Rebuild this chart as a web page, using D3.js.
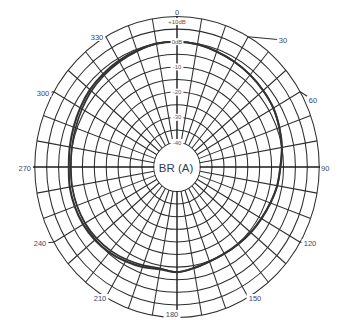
<!DOCTYPE html>
<html><head><meta charset="utf-8">
<script src="https://cdn.jsdelivr.net/npm/d3@7"></script>
<style>html,body{margin:0;padding:0;background:#fff}svg{display:block}</style>
</head><body>
<script>
// Polar pattern: angle (degrees) and level (dB)
const angleTicks = [0, 30, 60, 90, 120, 150, 180, 210, 240, 270, 300, 330];
const spokeAngles = [0,10,20,30,40,50,60,70,80,90,100,110,120,130,140,150,160,170,
                     180,190,200,210,220,230,240,250,260,270,280,290,300,310,320,330,340,350];
const ringLevels = [-40, -35, -30, -25, -20, -15, -10, -5, 0, 5, 10];
const ringLabelLevels = [10, 0, -10, -20, -30, -40];
const ringLabelTexts = ["+10dB", "0dB", "-10", "-20", "-30", "-40"];
const patternAngles = [0,10,20,30,40,50,60,70,80,90,100,110,120,130,140,150,160,170,
                       180,190,200,210,220,230,240,250,260,270,280,290,300,310,320,330,340,350];
const patternA = [0,-0.3,-1,-1.5,-2,-2.5,-3,-4,-5,-6.3,-7,-8,-8.8,-9.3,-9.8,-10,-9.8,-9,
                  -8,-8.5,-7.5,-6.5,-5.5,-4.7,-4.2,-4,-4,-4.3,-4,-3.5,-2.8,-2,-1.5,-1,-0.5,0];
const patternB = [0,-0.3,-1,-1.5,-2,-2.5,-3,-4,-5,-6.3,-7,-8,-8.8,-9.3,-9.8,-10,-9.8,-9,
                  -8,-8.9,-8.2,-7.3,-6.4,-5.7,-5.2,-5,-5,-5.2,-4.9,-4.4,-3.7,-2.8,-2.2,-1.5,-0.8,0];
const centerLabel = "BR (A)";

const W = 338, H = 320;
const cx = 177, cy = 167, sx = 0.945;
const r = d3.scaleLinear().domain([-40, 10]).range([24.5, 150.5]);
const rad = d3.scaleLinear().domain([0, 360]).range([0, 2 * Math.PI]);
const px = (a, rr) => cx + rr * Math.sin(rad(a)) * sx;
const py = (a, rr) => cy - rr * Math.cos(rad(a));

// label anchor points around the rim
const tickPos = {0:[177,12],30:[283,40],60:[313,100],90:[321,168],120:[310,243],150:[255,298],
                 180:[172,314],210:[100,298],240:[40,243],270:[31,168],300:[43,93],330:[97,37]};

const svg = d3.select("body").append("svg").attr("width", W).attr("height", H);
const grid = svg.append("g");
const gridColor = "#2e2e2e";

// rings
grid.selectAll("ellipse.ring").data(ringLevels).join("ellipse")
  .attr("cx", cx).attr("cy", cy)
  .attr("rx", d => r(d) * sx).attr("ry", d => r(d))
  .attr("fill", "none").attr("stroke", gridColor).attr("stroke-width", 1.05);

// spokes
grid.selectAll("line.spoke").data(spokeAngles.filter(a => a % 90 !== 0)).join("line")
  .attr("x1", a => px(a, r(-40))).attr("y1", a => py(a, r(-40)))
  .attr("x2", a => px(a, r(10))).attr("y2", a => py(a, r(10)))
  .attr("stroke", gridColor).attr("stroke-width", 1.05);

// leaders from the rim out to the angle labels
grid.selectAll("line.leader").data(angleTicks.filter(a => a % 90 !== 0)).join("line")
  .attr("x1", a => px(a, r(10))).attr("y1", a => py(a, r(10)))
  .attr("x2", a => tickPos[a][0]).attr("y2", a => tickPos[a][1])
  .attr("stroke", gridColor).attr("stroke-width", 1.05);

// main axes
grid.append("line").attr("x1", 33).attr("x2", 320).attr("y1", cy).attr("y2", cy)
  .attr("stroke", "#1a1a1a").attr("stroke-width", 1.4);
grid.append("line").attr("x1", cx).attr("x2", cx).attr("y1", 17).attr("y2", 317)
  .attr("stroke", "#1a1a1a").attr("stroke-width", 1.4);

// inner blank disc
svg.append("ellipse").attr("cx", cx).attr("cy", cy)
  .attr("rx", r(-40) * sx - 0.5).attr("ry", r(-40) - 0.5).attr("fill", "#fff");

// pattern curves
const line = d3.line().curve(d3.curveCatmullRomClosed.alpha(0.5));
function drawPattern(vals, w) {
  const pts = patternAngles.map((a, i) => [px(a, r(vals[i])), py(a, r(vals[i]))]);
  svg.append("path").attr("d", line(pts)).attr("fill", "none")
    .attr("stroke", "#333").attr("stroke-width", w).attr("stroke-linejoin", "round");
}
drawPattern(patternA, 2.1);
drawPattern(patternB, 1.7);

// level labels on the vertical axis
const lab = svg.append("g").attr("font-family", "Liberation Sans, Arial, sans-serif");
ringLabelLevels.forEach((d, i) => {
  const t = ringLabelTexts[i];
  const y = d === 10 ? py(0, r(d)) + 5 : py(0, r(d));
  const w = t.length * 3.6 + 2;
  lab.append("rect").attr("x", cx - w / 2).attr("y", y - 3.5).attr("width", w).attr("height", 7)
    .attr("fill", "#fff");
  lab.append("text").attr("x", cx).attr("y", y).attr("dy", "0.35em")
    .attr("text-anchor", "middle").attr("font-size", 6)
    .attr("fill", d === 10 ? "#7a4a3a" : "#555a66").text(t);
});

// angle labels
angleTicks.forEach(a => {
  const [x, y] = tickPos[a];
  const t = String(a);
  const w = t.length * 4.6 + 3;
  const x0 = a === 270 ? x - w + 1 : a === 90 ? x - 1 : x - w / 2;
  lab.append("rect").attr("x", x0).attr("y", y - 4).attr("width", w).attr("height", 8).attr("fill", "#fff");
  lab.append("text").attr("x", x).attr("y", y).attr("dy", "0.35em")
    .attr("text-anchor", a === 270 ? "end" : a === 90 ? "start" : "middle")
    .attr("font-size", 7.5).attr("fill", "#3c4660").text(t);
});

// center label
lab.append("text").attr("x", cx - 1).attr("y", cy + 1).attr("dy", "0.35em")
  .attr("text-anchor", "middle").attr("font-size", 11.5).attr("fill", "#2e3a58")
  .text(centerLabel);
</script>
</body></html>
